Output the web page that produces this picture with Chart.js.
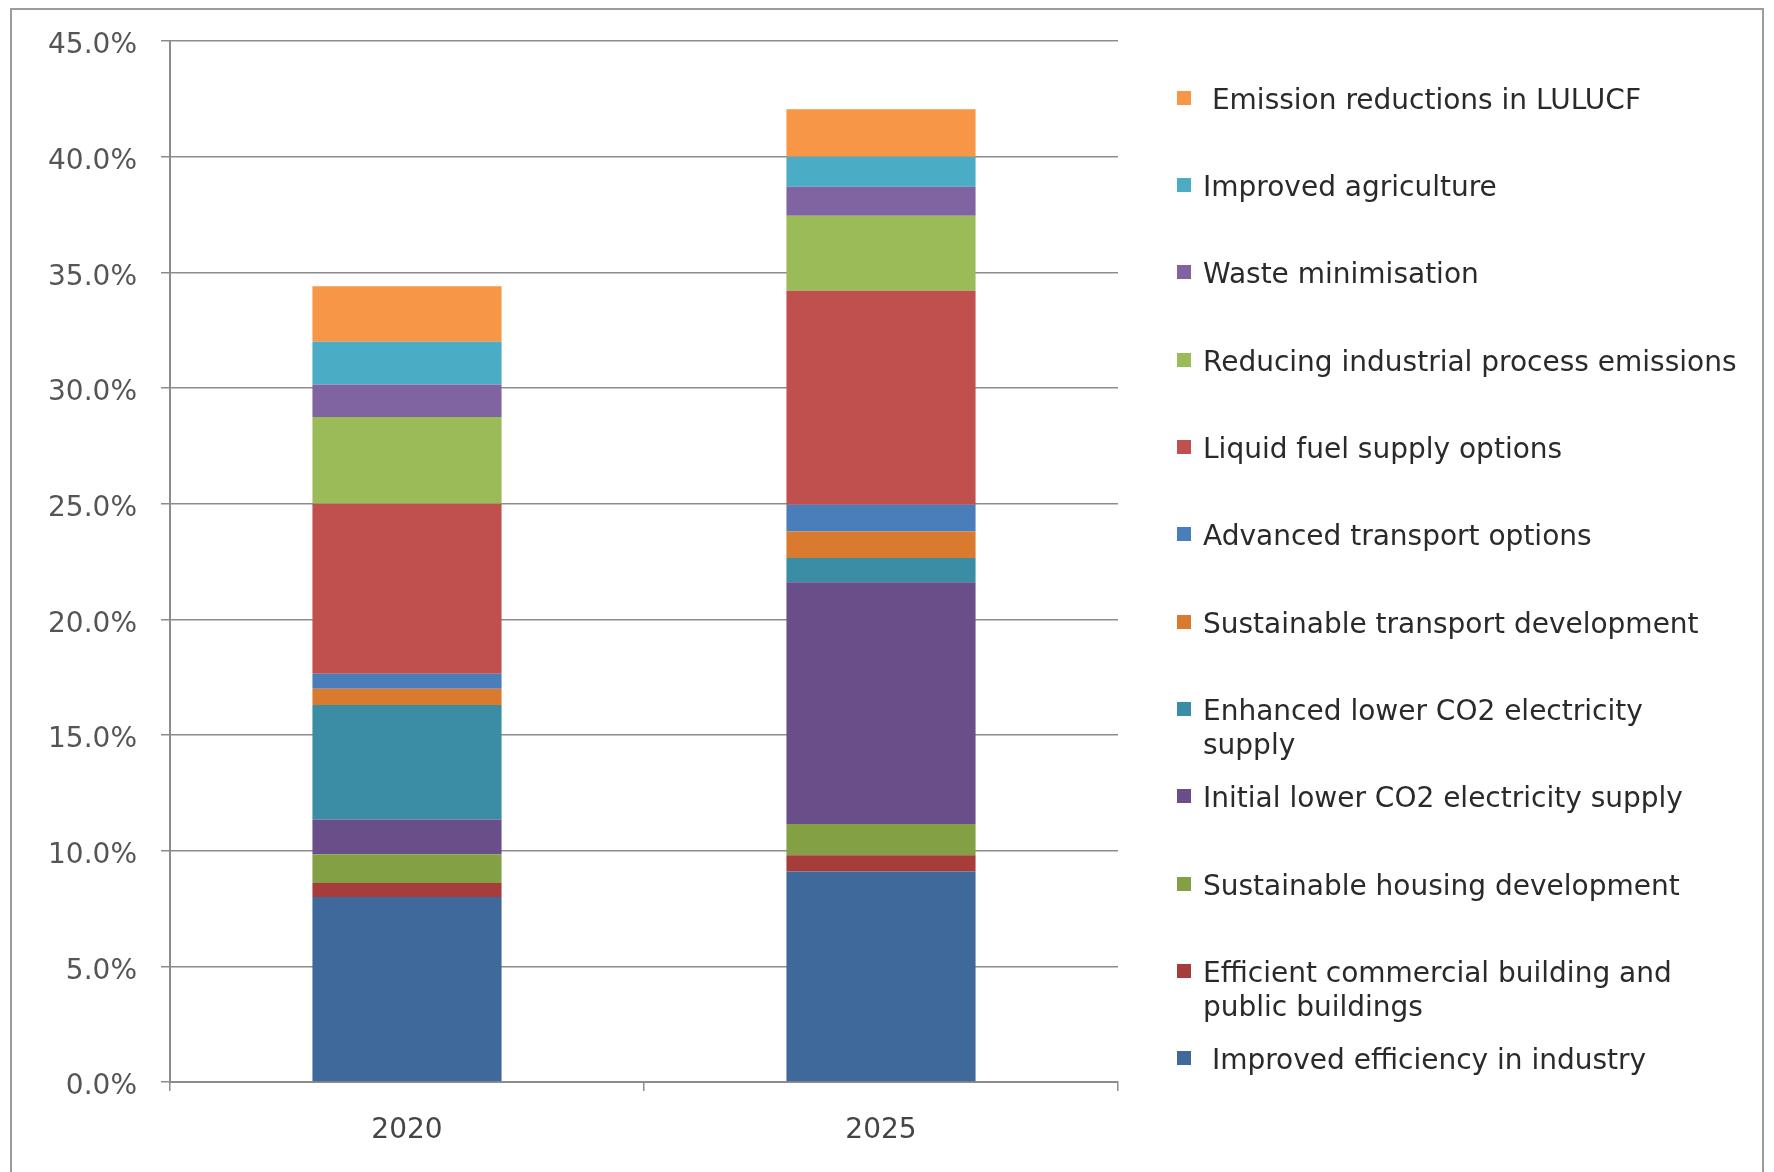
<!DOCTYPE html>
<html>
<head>
<meta charset="utf-8">
<script src="https://cdn.jsdelivr.net/npm/chart.js@4.4.1/dist/chart.umd.min.js"></script>
<style>
	body {
		margin: 0;
		background: #fff;
		width: 1774px;
		height: 1172px;
		overflow: hidden;
		position: relative;
		font-family: 'DejaVu Sans', sans-serif;
	}
	.frame {
		position: absolute;
		left: 10px;
		top: 8px;
		width: 1750px;
		height: 1200px;
		border: 2px solid #9c9c9c;
	}
	#wrap {
		position: absolute;
		left: 0;
		top: 0;
		width: 1774px;
		height: 1172px;
	}
	.legend__item {
		position: absolute;
		left: 1177px;
	}
	.legend__box {
		position: absolute;
		left: 0;
		width: 14px;
		height: 14px;
	}
	.legend__text {
		position: absolute;
		left: 26px;
		white-space: pre;
		font-size: 28px;
		line-height: 34px;
		color: #2a2a2a;
	}
</style>
</head>
<body>
<div class="frame"></div>
<div id="wrap"><canvas id="myChart" width="1774" height="1172"></canvas></div>
<div class="legend"></div>

<script>
// chart
const ctx = document.getElementById('myChart');

const years = ['2020', '2025'];

// series, bottom of the stack first
const seriesLabels = [
	[' Improved efficiency in industry'],
	['Efficient commercial building and', 'public buildings'],
	['Sustainable housing development'],
	['Initial lower CO2 electricity supply'],
	['Enhanced lower CO2 electricity', 'supply'],
	['Sustainable transport development'],
	['Advanced transport options'],
	['Liquid fuel supply options'],
	['Reducing industrial process emissions'],
	['Waste minimisation'],
	['Improved agriculture'],
	[' Emission reductions in LULUCF']
];

const seriesColors = [
	'#40699B', '#A63D3B', '#84A045', '#6A4E89', '#3A8DA4', '#DA7A2E',
	'#4A7EBB', '#C0504D', '#9BBB59', '#8064A2', '#4BACC6', '#F79646'
];

// values in %
const industry = [8.0, 9.1];
const commercialBuildings = [0.6, 0.7];
const housing = [1.25, 1.35];
const initialElectricity = [1.5, 10.45];
const enhancedElectricity = [4.95, 1.05];
const sustainableTransport = [0.7, 1.15];
const advancedTransport = [0.65, 1.15];
const liquidFuel = [7.35, 9.25];
const industrialProcess = [3.75, 3.25];
const waste = [1.4, 1.25];
const agriculture = [1.85, 1.3];
const lulucf = [2.4, 2.05];

const yTicks = [0, 5, 10, 15, 20, 25, 30, 35, 40, 45];

const seriesValues = [
	industry, commercialBuildings, housing, initialElectricity, enhancedElectricity,
	sustainableTransport, advancedTransport, liquidFuel, industrialProcess, waste,
	agriculture, lulucf
];

const GRID = '#8c8c8c';
const TICK_FONT = { size: 28, family: 'DejaVu Sans' };

const datasets = seriesValues.map((values, i) => ({
	label: seriesLabels[i].join(' '),
	data: values,
	backgroundColor: seriesColors[i],
	borderWidth: 0,
	barPercentage: 0.399,
	categoryPercentage: 1
}));

const config = {
	type: 'bar',
	data: {
		labels: years,
		datasets
	},
	options: {
		responsive: false,
		animation: false,
		layout: {
			padding: { top: 41, right: 656, bottom: 0, left: 0 }
		},
		plugins: {
			legend: { display: false },
			tooltip: { enabled: false }
		},
		scales: {
			x: {
				stacked: true,
				grid: {
					offset: true,
					drawOnChartArea: false,
					drawTicks: true,
					tickLength: 9,
					color: GRID,
					lineWidth: 1.5
				},
				border: { color: GRID, width: 2 },
				ticks: {
					font: TICK_FONT,
					color: '#444',
					padding: 23
				},
				afterFit: (axis) => { axis.height = 90 }
			},
			y: {
				stacked: true,
				min: 0,
				max: 45,
				afterBuildTicks: (axis) => { axis.ticks = yTicks.map(v => ({ value: v })) },
				grid: {
					drawOnChartArea: true,
					drawTicks: true,
					tickLength: 9,
					color: GRID,
					lineWidth: 1.5
				},
				border: { color: GRID, width: 2 },
				ticks: {
					font: TICK_FONT,
					color: '#555',
					padding: 24,
					labelOffset: 5,
					callback: (v) => v.toFixed(1) + '%'
				},
				afterFit: (axis) => { axis.width = 170 }
			}
		}
	}
};

new Chart(ctx, config);

// legend, top item is the last series
const legend = document.querySelector('.legend');
const SLOT_TOP = 99.6;
const SLOT_STEP = 87.35;
seriesLabels.slice().reverse().forEach((lines, i) => {
	const color = seriesColors[seriesColors.length - 1 - i];
	const center = SLOT_TOP + i * SLOT_STEP;
	legend.innerHTML += `
	<div class="legend__item" style="top:${center - 17}px">
		<div class="legend__box" style="top:8px;background:${color}"></div>
		<div class="legend__text">${lines.join('\n')}</div>
	</div>`;
});
</script>
</body>
</html>
